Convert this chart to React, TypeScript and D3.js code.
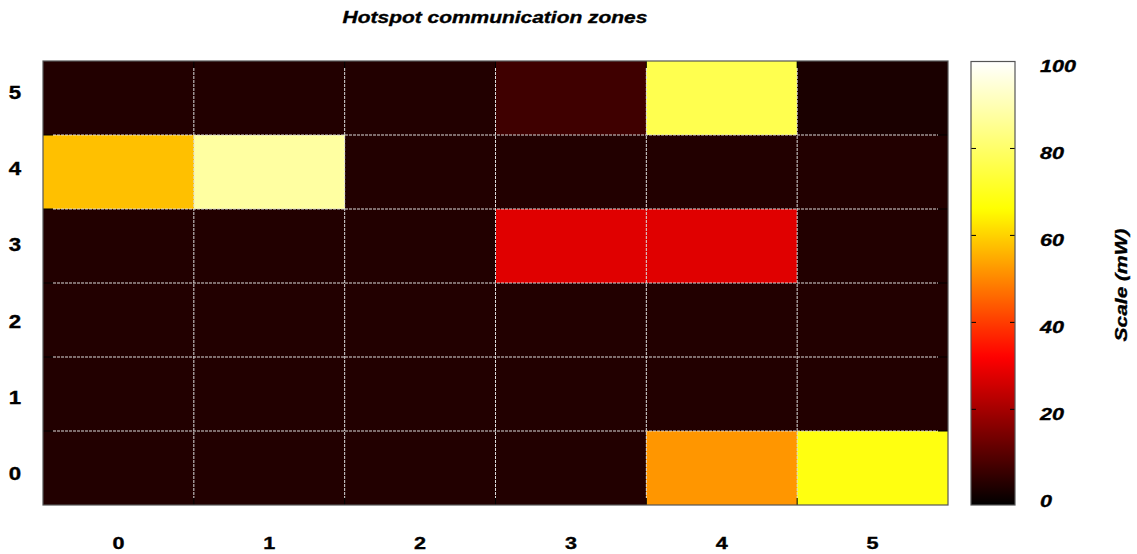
import React from "react";
import * as d3 from "d3";

const title = "Hotspot communication zones";
const colorbarLabel = "Scale (mW)";
const xCategories = [0, 1, 2, 3, 4, 5];
const yCategories = [0, 1, 2, 3, 4, 5];
// values per row (y = 0 .. 5), columns x = 0 .. 5
const row0 = [2.5, 2.5, 2.5, 2.5, 52, 68.2];
const row1 = [2.5, 2.5, 2.5, 2.5, 2.5, 2.5];
const row2 = [2.5, 2.5, 2.5, 2.5, 2.5, 2.5];
const row3 = [2.5, 2.5, 2.5, 27.9, 27.9, 2.5];
const row4 = [57.6, 87.4, 2.5, 2.5, 2.5, 2.5];
const row5 = [2.5, 2.5, 2.5, 6.4, 76.6, 1.5];
const rows = [row0, row1, row2, row3, row4, row5];
const cbTicks = [0, 20, 40, 60, 80, 100];
const cbDomain = [-2, 100];

const W = 1137;
const H = 554;
const plot = { left: 43, right: 948, top: 61, bottom: 505 };
const bar = { left: 971, right: 1015, top: 61.5, bottom: 505 };

// gnuplot "hot" palette (rgbformulae 21,22,23)
function hot(t: number) {
  const c = (v: number) => Math.round(255 * Math.max(0, Math.min(1, v)));
  return `rgb(${c(3 * t)},${c(3 * t - 1)},${c(3 * t - 2)})`;
}

const FONT = "'Liberation Sans', Arial, sans-serif";
const SX = 1.27;

function Label(props: {
  x: number;
  y: number;
  text: string | number;
  anchor?: string;
  italic?: boolean;
  size?: number;
  rotate?: number;
}) {
  const { x, y, text, anchor = "middle", italic = false, size = 16, rotate = 0 } = props;
  return (
    <g transform={`translate(${x},${y}) rotate(${rotate}) scale(${SX},1)`}>
      <text
        textAnchor={anchor}
        fontFamily={FONT}
        fontWeight="bold"
        fontStyle={italic ? "italic" : "normal"}
        fontSize={size}
        fill="#000"
        stroke="#000"
        strokeWidth={0.35}
      >
        {text}
      </text>
    </g>
  );
}

export default function App() {
  const x = d3.scaleLinear().domain([-0.5, xCategories.length - 0.5]).range([plot.left, plot.right]);
  const y = d3.scaleLinear().domain([-0.5, yCategories.length - 0.5]).range([plot.bottom, plot.top]);
  const yLab = d3.scaleLinear().domain([0, 5]).range([480, 99]);
  const cNorm = d3.scaleLinear().domain(cbDomain).range([0, 1]).clamp(true);
  const color = (v: number) => hot(cNorm(v));
  const cbY = d3.scaleLinear().domain(cbDomain).range([bar.bottom, bar.top]);

  const stops = d3.range(0, 101).map((i) => i / 100);
  const gridColor = "#dadada";
  const tickLenH = 10;
  const tickLenV = 7;

  const xBounds = d3.range(1, xCategories.length).map((i) => x(i - 0.5));
  const yBounds = d3.range(1, yCategories.length).map((j) => y(j - 0.5));

  return (
    <svg
      width={W}
      height={H}
      style={{ position: "absolute", left: 0, top: 0, display: "block", background: "#fff" }}
    >
      <defs>
        <linearGradient id="cbgrad" x1="0" y1="1" x2="0" y2="0">
          {stops.map((s) => (
            <stop key={s} offset={s} stopColor={hot(s)} />
          ))}
        </linearGradient>
      </defs>

      <Label x={495} y={23} text={title} italic size={16.5} />

      {/* cells */}
      {rows.map((row, j) =>
        row.map((v, i) => (
          <rect
            key={`${i}-${j}`}
            x={x(xCategories[i] - 0.5)}
            y={y(yCategories[j] + 0.5)}
            width={x(xCategories[i] + 0.5) - x(xCategories[i] - 0.5)}
            height={y(yCategories[j] - 0.5) - y(yCategories[j] + 0.5)}
            fill={color(v)}
            shapeRendering="crispEdges"
          />
        ))
      )}

      {/* grid */}
      {xBounds.map((bx, k) => (
        <g key={`vx${k}`}>
          <line x1={bx} x2={bx} y1={plot.top + tickLenV} y2={plot.bottom - tickLenV} stroke={gridColor} strokeWidth={1} strokeDasharray="3,1" />
          <line x1={bx} x2={bx} y1={plot.top} y2={plot.top + tickLenV} stroke="#000" strokeWidth={1} />
          <line x1={bx} x2={bx} y1={plot.bottom - tickLenV} y2={plot.bottom} stroke="#000" strokeWidth={1} />
        </g>
      ))}
      {yBounds.map((by, k) => (
        <g key={`hy${k}`}>
          <line x1={plot.left + tickLenH} x2={plot.right - tickLenH} y1={by} y2={by} stroke={gridColor} strokeWidth={1} strokeDasharray="3,1" />
          <line x1={plot.left} x2={plot.left + tickLenH} y1={by} y2={by} stroke="#000" strokeWidth={1} />
          <line x1={plot.right - tickLenH} x2={plot.right} y1={by} y2={by} stroke="#000" strokeWidth={1} />
        </g>
      ))}

      {/* border */}
      <rect
        x={plot.left}
        y={plot.top}
        width={plot.right - plot.left}
        height={plot.bottom - plot.top}
        fill="none"
        stroke="#555"
        strokeWidth={1.2}
      />

      {/* axis labels */}
      {xCategories.map((c) => (
        <Label key={`xl${c}`} x={x(c)} y={549} text={c} size={17} />
      ))}
      {yCategories.map((c) => (
        <Label key={`yl${c}`} x={15} y={yLab(c)} text={c} size={17.5} />
      ))}

      {/* colorbar */}
      <rect
        x={bar.left}
        y={bar.top}
        width={bar.right - bar.left}
        height={bar.bottom - bar.top}
        fill="url(#cbgrad)"
      />
      {cbTicks
        .filter((t) => t > 0 && t < 100)
        .map((t) => (
          <g key={`cbt${t}`}>
            <line x1={bar.left} x2={bar.left + 5} y1={cbY(t)} y2={cbY(t)} stroke="#000" />
            <line x1={bar.right - 5} x2={bar.right} y1={cbY(t)} y2={cbY(t)} stroke="#000" />
          </g>
        ))}
      <rect
        x={bar.left}
        y={bar.top}
        width={bar.right - bar.left}
        height={bar.bottom - bar.top}
        fill="none"
        stroke="#555"
        strokeWidth={1.2}
      />
      {cbTicks.map((t) => (
        <Label key={`cbl${t}`} x={1040} y={cbY(t) + 10.5} text={t} anchor="start" italic size={17} />
      ))}
      <Label x={1127} y={285} text={colorbarLabel} italic size={16.5} rotate={-90} />
    </svg>
  );
}
